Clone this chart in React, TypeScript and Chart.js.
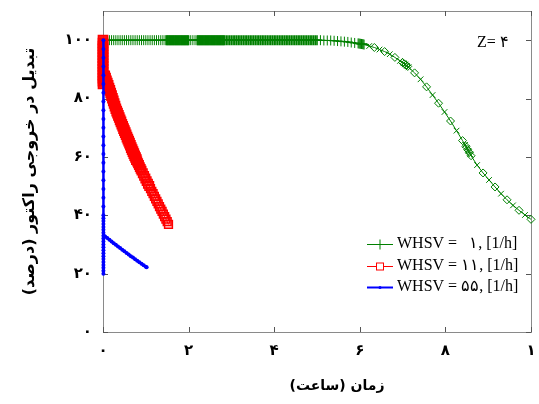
import { useEffect, useRef } from 'react';
import { Chart, registerables } from 'chart.js';

Chart.register(...registerables);

const xTickValues = [0, 2, 4, 6, 8, 10];
const xTickLabels = ['۰', '۲', '۴', '۶', '۸', '۱'];
const yTickValues = [0, 20, 40, 60, 80, 100];
const yTickLabels = ['۰', '۲۰', '۴۰', '۶۰', '۸۰', '۱۰۰'];

const seriesNames = ['WHSV =   ۱, [1/h]', 'WHSV = ۱۱, [1/h]', 'WHSV = ۵۵, [1/h]'];
const xTitle = 'زمان (ساعت)';
const yTitle = 'تبدیل در خروجی راکتور (درصد)';
const noteText = 'Z= ۴';

// WHSV = 1
const greenTime = [
  0.10, 0.15, 0.20, 0.25, 0.30, 0.35, 0.40, 0.45, 0.50, 0.55, 0.60, 0.65, 0.70, 0.75, 0.80, 0.85, 0.90, 0.95, 1.00, 1.05, 1.10, 1.15, 1.20, 1.25, 1.30, 1.35, 1.40, 1.45,
  1.48, 1.50, 1.52, 1.54, 1.56, 1.58, 1.60, 1.62, 1.64, 1.66, 1.68, 1.70, 1.72, 1.74, 1.76, 1.78, 1.80, 1.82, 1.84, 1.86, 1.88, 1.90, 1.92, 1.94, 1.96, 1.98, 2.00,
  2.05, 2.10, 2.15,
  2.20, 2.22, 2.24, 2.26, 2.28, 2.30, 2.32, 2.34, 2.36, 2.38, 2.40, 2.42, 2.44, 2.46, 2.48, 2.50, 2.52, 2.54, 2.56, 2.58, 2.60, 2.62, 2.64, 2.66, 2.68, 2.70, 2.72, 2.74, 2.76, 2.78, 2.80, 2.82, 2.84,
  2.88, 2.92, 2.96, 3.00, 3.04, 3.08, 3.12, 3.16, 3.20, 3.24, 3.28, 3.32, 3.36, 3.40, 3.44, 3.48, 3.52, 3.56, 3.60, 3.64, 3.68, 3.72, 3.76, 3.80, 3.84, 3.88, 3.92, 3.96,
  4.00, 4.04, 4.08, 4.12, 4.16, 4.20, 4.24, 4.28, 4.32, 4.36, 4.40, 4.44, 4.48, 4.52, 4.56, 4.60, 4.64, 4.68, 4.72, 4.76, 4.80, 4.84, 4.88, 4.92, 4.96, 5.00,
  5.08, 5.16, 5.24, 5.32, 5.40, 5.48, 5.56, 5.64, 5.72, 5.80, 5.88, 5.96,
  5.98, 6.00, 6.02, 6.04, 6.06, 6.08, 6.10,
  6.22, 6.34, 6.46, 6.58, 6.70, 6.82, 6.94,
  7.00, 7.02, 7.04, 7.06, 7.08, 7.10, 7.12, 7.14,
  7.28, 7.42, 7.56, 7.70, 7.84, 7.98, 8.12, 8.26, 8.40,
  8.46, 8.48, 8.50, 8.52, 8.54, 8.56, 8.58, 8.60,
  8.74, 8.88, 9.02, 9.16, 9.30, 9.44, 9.58, 9.72, 9.86, 10.0,
];
const greenValue = [
  100, 100, 100, 100, 100, 100, 100, 100, 100, 100, 100, 100, 100, 100, 100, 100, 100, 100, 100, 100, 100, 100, 100, 100, 100, 100, 100, 100,
  100, 100, 100, 100, 100, 100, 100, 100, 100, 100, 100, 100, 100, 100, 100, 100, 100, 100, 100, 100, 100, 100, 100, 100, 100, 100, 100,
  100, 100, 100,
  100, 100, 100, 100, 100, 100, 100, 100, 100, 100, 100, 100, 100, 100, 100, 100, 100, 100, 100, 100, 100, 100, 100, 100, 100, 100, 100, 100, 100, 100, 100, 100, 100,
  100, 100, 100, 100, 100, 100, 100, 100, 100, 100, 100, 100, 100, 100, 100, 100, 100, 100, 100, 100, 100, 100, 100, 100, 100, 100, 100, 100,
  100, 100, 100, 100, 100, 100, 100, 100, 100, 100, 100, 100, 100, 100, 100, 100, 100, 100, 100, 100, 100, 100, 100, 100, 100, 100,
  100, 99.9, 99.9, 99.9, 99.8, 99.7, 99.6, 99.5, 99.4, 99.2, 99.05, 98.9,
  98.85, 98.8, 98.75, 98.7, 98.65, 98.6, 98.5,
  98.0, 97.5, 96.8, 96.1, 95.2, 94.1, 92.9,
  92.3, 92.1, 91.9, 91.7, 91.5, 91.2, 91.0, 90.7,
  88.8, 86.6, 84.0, 81.2, 78.4, 75.4, 72.3, 69.0, 65.6,
  64.1, 63.6, 63.0, 62.5, 62.0, 61.5, 60.9, 60.4,
  57.2, 54.5, 52.1, 49.7, 47.4, 45.3, 43.4, 41.7, 40.1, 38.6,
];

// WHSV = 11
const redTime = [
  0.0, 0.0, 0.0, 0.0, 0.0, 0.0, 0.0, 0.0, 0.0, 0.0, 0.0, 0.0, 0.0, 0.0, 0.0, 0.0,
  0.04, 0.06, 0.08, 0.10, 0.12, 0.14, 0.16, 0.18, 0.20, 0.22, 0.24, 0.26, 0.28, 0.30, 0.32, 0.34, 0.36, 0.38, 0.40,
  0.42, 0.44, 0.46, 0.48, 0.50, 0.52, 0.54, 0.56, 0.58, 0.60, 0.62, 0.64, 0.66, 0.68, 0.70, 0.72, 0.74, 0.76, 0.78, 0.80,
  0.82, 0.84, 0.86, 0.88, 0.90,
  0.93, 0.96, 0.99, 1.02, 1.05, 1.08, 1.11, 1.14, 1.17, 1.20, 1.23, 1.26, 1.29, 1.32, 1.35, 1.38, 1.41, 1.44, 1.47, 1.50, 1.53,
];
const redValue = [
  100, 99, 98, 97, 96, 95, 94, 93, 92, 91, 90, 89, 88, 87, 86, 85,
  87.8, 87.0, 86.1, 85.3, 84.5, 83.6, 82.8, 81.9, 81.0, 80.1, 79.2, 78.3, 77.4, 76.5, 75.7, 75.0, 74.2, 73.5, 72.7,
  72.0, 71.2, 70.5, 69.7, 69.0, 68.3, 67.6, 66.8, 66.1, 65.4, 64.7, 64.0, 63.2, 62.5, 61.8, 61.1, 60.4, 59.8, 59.1, 58.4,
  57.8, 57.2, 56.5, 55.9, 55.3,
  54.4, 53.5, 52.6, 51.7, 50.8, 50.0, 49.1, 48.2, 47.4, 46.5, 45.6, 44.8, 43.9, 43.0, 42.1, 41.3, 40.4, 39.5, 38.7, 37.8, 36.9,
];

// WHSV = 55
const blueTime = [
  0.01, 0.01, 0.01, 0.01, 0.01, 0.01, 0.01, 0.01, 0.01, 0.01, 0.01, 0.01, 0.01, 0.01, 0.01, 0.01,
  0.01, 0.01, 0.01, 0.01, 0.01,
  0.01, 0.01, 0.01, 0.01, 0.01, 0.01, 0.01, 0.01, 0.01, 0.01, 0.01, 0.01, 0.01, 0.01, 0.01, 0.01, 0.01, 0.01, 0.01, 0.01,
  0.02, 0.05, 0.10, 0.15, 0.20, 0.25, 0.30, 0.35, 0.40, 0.45, 0.50, 0.55, 0.60, 0.65, 0.70, 0.75, 0.80, 0.85, 0.90, 0.95, 1.00, 1.02,
];
const blueValue = [
  100, 97, 94, 91, 88, 85, 82, 79, 76, 73, 70, 67, 64, 61, 58, 55,
  52, 49, 46, 43, 40,
  39, 38, 37, 36, 35, 34, 33, 32, 31, 30, 29, 28, 27, 26, 25, 24, 23, 22, 21, 20,
  33.0, 32.7, 32.2, 31.6, 31.0, 30.4, 29.9, 29.3, 28.8, 28.2, 27.7, 27.1, 26.6, 26.0, 25.5, 24.9, 24.4, 23.9, 23.4, 22.9, 22.4, 22.2,
];

const GREEN = '#008000';
const RED = '#ff0000';
const BLUE = '#0000ff';
const ARABIC_FONT = '"DejaVu Sans", sans-serif';
const SERIF_FONT = '"Liberation Serif", "Times New Roman", serif';

function pairs(xs: number[], ys: number[]) {
  return xs.map((x, i) => ({ x, y: ys[i] }));
}

function noEdgePadding(s: any) {
  s.paddingLeft = 0;
  s.paddingRight = 0;
  s.paddingTop = 0;
  s.paddingBottom = 0;
}

const framePlugin = {
  id: 'frame',
  beforeDatasetsDraw(chart: any) {
    const { ctx, chartArea, scales } = chart;
    const { left, right, top, bottom } = chartArea;
    ctx.save();
    ctx.strokeStyle = '#8a8a8a';
    ctx.lineWidth = 1;
    ctx.strokeRect(Math.round(left) + 0.5, Math.round(top) + 0.5, Math.round(right - left), Math.round(bottom - top));
    ctx.strokeStyle = '#555555';
    ctx.beginPath();
    xTickValues.forEach((v) => {
      const px = Math.round(scales.x.getPixelForValue(v)) + 0.5;
      ctx.moveTo(px, bottom);
      ctx.lineTo(px, bottom - 5);
      ctx.moveTo(px, top);
      ctx.lineTo(px, top + 5);
    });
    yTickValues.forEach((v) => {
      const py = Math.round(scales.y.getPixelForValue(v)) + 0.5;
      ctx.moveTo(left, py);
      ctx.lineTo(left + 5, py);
      ctx.moveTo(right, py);
      ctx.lineTo(right - 5, py);
    });
    ctx.stroke();
    ctx.restore();
  },
  afterDraw(chart: any) {
    const { ctx, chartArea } = chart;
    const { top, bottom } = chartArea;
    ctx.save();
    // axis titles
    ctx.fillStyle = '#000';
    ctx.textAlign = 'center';
    ctx.textBaseline = 'middle';
    ctx.font = `bold 14px ${ARABIC_FONT}`;
    ctx.fillText(xTitle, 337, 386);
    ctx.font = `bold 16px ${ARABIC_FONT}`;
    ctx.save();
    ctx.translate(30, (top + bottom) / 2);
    ctx.rotate(-Math.PI / 2);
    ctx.fillText(yTitle, 0, 0);
    ctx.restore();

    // note
    ctx.font = `16px ${SERIF_FONT}`;
    ctx.textAlign = 'left';
    ctx.fillText(noteText, 477, 43);

    // legend
    const colors = [GREEN, RED, BLUE];
    const rowsY = [244, 266, 287];
    const x0 = 367;
    const x1 = 393;
    const xm = (x0 + x1) / 2;
    seriesNames.forEach((name, i) => {
      const yy = rowsY[i] + 0.5;
      ctx.strokeStyle = colors[i];
      ctx.fillStyle = colors[i];
      ctx.lineWidth = i === 2 ? 2 : 1;
      ctx.beginPath();
      ctx.moveTo(x0, yy);
      ctx.lineTo(x1, yy);
      ctx.stroke();
      ctx.lineWidth = 1;
      if (i === 0) {
        ctx.beginPath();
        ctx.moveTo(xm, yy - 5);
        ctx.lineTo(xm, yy + 5);
        ctx.stroke();
      } else if (i === 1) {
        ctx.fillStyle = '#fff';
        ctx.fillRect(xm - 3.5, yy - 3.5, 7, 7);
        ctx.strokeRect(xm - 3.5, yy - 3.5, 7, 7);
      } else {
        ctx.beginPath();
        ctx.arc(xm, yy, 1.5, 0, Math.PI * 2);
        ctx.fill();
      }
      ctx.fillStyle = '#000';
      ctx.font = `16px ${SERIF_FONT}`;
      ctx.textAlign = 'left';
      ctx.textBaseline = 'middle';
      ctx.fillText(name, 397, rowsY[i]);
    });
    ctx.restore();
  },
};

function redFillAlpha(x: number) {
  if (x < 0.6) return 0.9;
  if (x < 0.8) return 0.6;
  if (x < 1.0) return 0.35;
  if (x < 1.2) return 0.2;
  return 0.1;
}

export default function App() {
  const canvasRef = useRef<HTMLCanvasElement | null>(null);

  useEffect(() => {
    const canvas = canvasRef.current;
    if (!canvas) return;
    const chart = new Chart(canvas, {
      type: 'scatter',
      data: {
        datasets: [
          {
            label: seriesNames[0],
            data: pairs(greenTime, greenValue),
            showLine: true,
            borderColor: GREEN,
            backgroundColor: 'transparent',
            borderWidth: 1,
            pointBorderColor: GREEN,
            pointBorderWidth: (c: any) => {
              const raw = c.raw;
              if (!raw) return 1;
              if ((raw.x >= 1.48 && raw.x <= 2.0) || (raw.x >= 2.2 && raw.x <= 5.0)) return 1.6;
              return 1;
            },
            pointRadius: (c: any) => {
              const raw = c.raw;
              if (!raw || raw.x < 6.2) return 5;
              return 4;
            },
            pointStyle: (c: any) => {
              const raw = c.raw;
              if (!raw || raw.x < 6.2) return 'cross';
              return c.dataIndex % 2 ? 'rectRot' : 'crossRot';
            },
            clip: false,
            order: 3,
          } as any,
          {
            label: seriesNames[1],
            data: pairs(redTime, redValue),
            showLine: true,
            borderColor: RED,
            backgroundColor: 'transparent',
            borderWidth: 1,
            pointBorderColor: RED,
            pointBackgroundColor: (c: any) => {
              const raw = c.raw;
              if (!raw) return 'transparent';
              return `rgba(255,0,0,${redFillAlpha(raw.x)})`;
            },
            pointBorderWidth: 1.5,
            pointRadius: (c: any) => {
              const raw = c.raw;
              if (!raw) return 6;
              return raw.x < 0.8 ? 6.5 : raw.x < 1.1 ? 6 : 5.5;
            },
            pointStyle: 'rect',
            clip: false,
            order: 2,
          } as any,
          {
            label: seriesNames[2],
            data: pairs(blueTime, blueValue),
            showLine: true,
            borderColor: BLUE,
            backgroundColor: BLUE,
            borderWidth: 2.5,
            pointBorderColor: BLUE,
            pointBackgroundColor: BLUE,
            pointBorderWidth: 0,
            pointRadius: 2,
            pointStyle: 'circle',
            clip: false,
            order: 1,
          } as any,
        ],
      },
      options: {
        animation: false,
        responsive: false,
        maintainAspectRatio: false,
        layout: { padding: { left: 0, top: 11, right: 7, bottom: 0 } },
        plugins: {
          legend: { display: false },
          tooltip: { enabled: false },
        },
        scales: {
          x: {
            type: 'linear',
            min: 0,
            max: 10,
            grid: { display: false },
            border: { display: false },
            afterBuildTicks: (s: any) => {
              s.ticks = xTickValues.map((v) => ({ value: v }));
            },
            afterFit: (s: any) => {
              s.height = 72;
              noEdgePadding(s);
            },
            ticks: {
              color: '#000',
              padding: 2,
              maxRotation: 0,
              autoSkip: false,
              font: { family: ARABIC_FONT, size: 15, weight: 'bold' },
              callback: (v: any) => {
                const i = xTickValues.indexOf(Number(v));
                return i >= 0 ? xTickLabels[i] : '';
              },
            },
          },
          y: {
            type: 'linear',
            min: 0,
            max: 110,
            grid: { display: false },
            border: { display: false },
            afterBuildTicks: (s: any) => {
              s.ticks = yTickValues.map((v) => ({ value: v }));
            },
            afterFit: (s: any) => {
              s.width = 103;
              noEdgePadding(s);
            },
            ticks: {
              color: '#000',
              padding: 3,
              autoSkip: false,
              font: { family: ARABIC_FONT, size: 15, weight: 'bold' },
              callback: (v: any) => {
                const i = yTickValues.indexOf(Number(v));
                return i >= 0 ? yTickLabels[i] : '';
              },
            },
          },
        },
      } as any,
      plugins: [framePlugin],
    });
    return () => chart.destroy();
  }, []);

  return (
    <div style={{ position: 'fixed', left: 0, top: 0, width: 539, height: 404, background: '#fff' }}>
      <canvas ref={canvasRef} width={539} height={404} style={{ display: 'block', width: 539, height: 404 }} />
    </div>
  );
}
